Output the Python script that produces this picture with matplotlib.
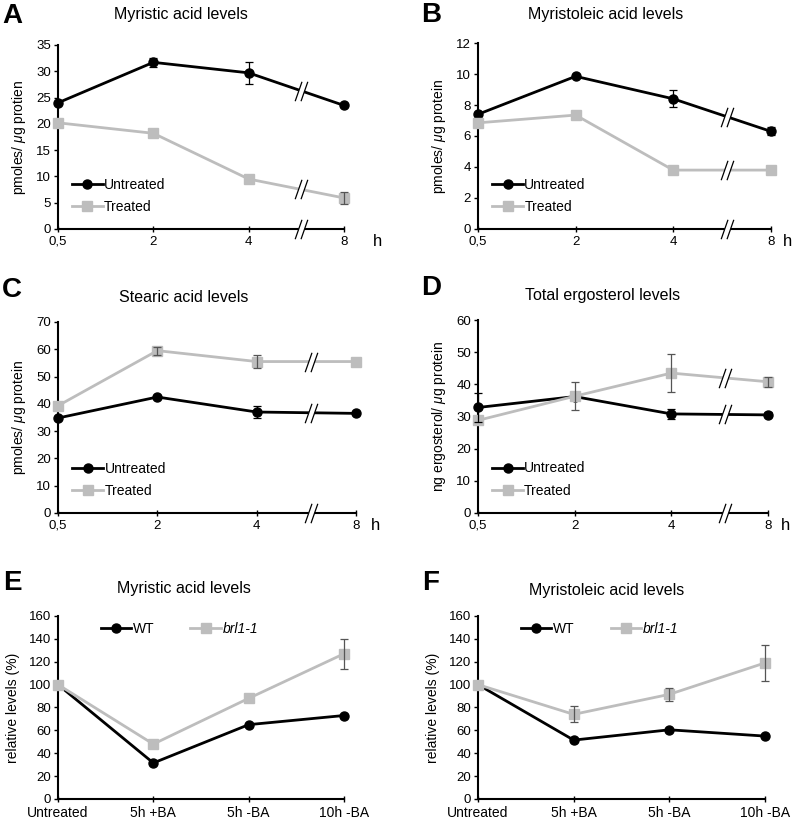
import numpy as np
import matplotlib
matplotlib.use('Agg')
import matplotlib.pyplot as plt
from matplotlib.path import Path

plt.rcParams['font.family'] = ['Liberation Sans', 'DejaVu Sans']
plt.rcParams['mathtext.fontset'] = 'custom'
plt.rcParams['mathtext.it'] = 'Liberation Sans:italic'

# ---- data ----
time_labels = ['0,5', '2', '4', '8']
cond_labels = ['Untreated', '5h +BA', '5h -BA', '10h -BA']

a_untreated = [24.0, 31.7, 29.7, 23.5]
a_untreated_err = [0, 0.8, 2.1, 0]
a_treated = [20.2, 18.2, 9.5, 5.9]
a_treated_err = [0, 0, 0, 1.2]

b_untreated = [7.4, 9.85, 8.4, 6.3]
b_untreated_err = [0, 0, 0.55, 0.25]
b_treated = [6.85, 7.35, 3.8, 3.8]
b_treated_err = [0, 0, 0, 0]

c_untreated = [34.8, 42.5, 37.0, 36.5]
c_untreated_err = [0, 0, 2.3, 0]
c_treated = [39.3, 59.5, 55.5, 55.5]
c_treated_err = [0, 1.5, 2.3, 0]

d_untreated = [32.8, 36.2, 30.8, 30.5]
d_untreated_err = [4.5, 0, 1.5, 0.8]
d_treated = [28.8, 36.3, 43.5, 40.8]
d_treated_err = [0, 4.4, 6.0, 1.5]

e_wt = [100, 31.5, 65, 73]
e_brl = [100, 48, 88, 127]
e_brl_err = [0, 0, 0, 13]

f_wt = [100, 51.5, 60.5, 55]
f_brl = [100, 74, 91.5, 119]
f_brl_err = [0, 7, 5.5, 15.5]

BLACK = '#000000'
GRAY = '#bdbdbd'

# break marker: two parallel slashes with a white gap between them
slash = Path([(-0.65, -1), (0.05, 1), (-0.05, -1), (0.65, 1)],
             [Path.MOVETO, Path.LINETO, Path.MOVETO, Path.LINETO])
gap = Path([(-0.6, -1), (0.0, -1), (0.6, 1), (0.0, 1), (-0.6, -1)],
           [Path.MOVETO, Path.LINETO, Path.LINETO, Path.LINETO, Path.CLOSEPOLY])


def add_break(ax, x, y):
    ax.plot([x], [y], marker=gap, markersize=14, markerfacecolor='white',
            markeredgewidth=0, linestyle='none', clip_on=False, zorder=6)
    ax.plot([x], [y], marker=slash, markersize=14, markerfacecolor='none',
            markeredgecolor='black', markeredgewidth=0.9, linestyle='none',
            clip_on=False, zorder=7)


def series(ax, y, err, color, marker, label, ecolor):
    x = np.arange(len(y))
    ax.plot(x, y, color=color, lw=2.0, marker=marker, markersize=6.5,
            label=label, clip_on=False, zorder=4)
    idx = [i for i, e in enumerate(err) if e > 0]
    ax.errorbar([x[i] for i in idx], [y[i] for i in idx],
                yerr=[err[i] for i in idx], fmt='none', ecolor=ecolor,
                elinewidth=0.9, capsize=3, capthick=0.9, clip_on=False, zorder=5)


def style_axes(ax, ymax, ystep, xlabels):
    ax.set_xlim(0, 3)
    ax.set_ylim(0, ymax)
    ax.set_yticks(np.arange(0, ymax + 0.1, ystep))
    ax.set_xticks(range(4))
    ax.set_xticklabels(xlabels)
    for s in ['top', 'right']:
        ax.spines[s].set_visible(False)
    for s in ['left', 'bottom']:
        ax.spines[s].set_linewidth(1.5)
    ax.tick_params(axis='y', direction='out', length=3, width=1, labelsize=9.5, pad=2)
    ax.tick_params(axis='x', direction='inout', length=4, width=1, labelsize=9.5, pad=3)


fig = plt.figure(figsize=(8, 8.21), dpi=100)

panels = [
    # key, rect, ymax, step, ylabel, black, black_err, gray, gray_err,
    # title, title pos, letter pos, "h" pos (pixels)
    ('A', [0.0725, 0.7211, 0.3575, 0.2241], 35, 5, 'pmoles/ $\\mu$g protien',
     a_untreated, a_untreated_err, a_treated, a_treated_err,
     'Myristic acid levels', (181, 15), (12, 16), (377, 242)),
    ('B', [0.5975, 0.7211, 0.366, 0.2265], 12, 2, 'pmoles/ $\\mu$g protein',
     b_untreated, b_untreated_err, b_treated, b_treated_err,
     'Myristoleic acid levels', (606, 15), (431, 15), (788, 242)),
    ('C', [0.0725, 0.3752, 0.3725, 0.2326], 70, 10, 'pmoles/ $\\mu$g protein',
     c_untreated, c_untreated_err, c_treated, c_treated_err,
     'Stearic acid levels', (184, 297), (12, 290), (376, 526)),
    ('D', [0.5975, 0.3752, 0.3625, 0.235], 60, 10, 'ng ergosterol/ $\\mu$g protein',
     d_untreated, d_untreated_err, d_treated, d_treated_err,
     'Total ergosterol levels', (603, 295), (431, 288), (786, 526)),
]

W, H = 800, 821
for key, rect, ymax, step, ylab, blk, blk_err, gry, gry_err, title, tpos, lpos, hpos in panels:
    ax = fig.add_axes(rect)
    series(ax, blk, blk_err, BLACK, 'o', 'Untreated', BLACK)
    series(ax, gry, gry_err, GRAY, 's', 'Treated', '#555555')
    style_axes(ax, ymax, step, time_labels)
    ax.set_ylabel(ylab, fontsize=10, labelpad=6)
    xb = 2.55
    for y in (blk, gry):
        add_break(ax, xb, np.interp(xb, [2, 3], [y[2], y[3]]))
    add_break(ax, xb, 0)
    ax.legend(loc='lower left', bbox_to_anchor=(0.03, 0.05), frameon=False,
              fontsize=10, handlelength=2.2, handletextpad=0.1, numpoints=1,
              labelspacing=0.6, borderaxespad=0)
    fig.text(hpos[0] / W, 1 - hpos[1] / H, 'h', fontsize=12, ha='center', va='center')
    fig.text(tpos[0] / W, 1 - tpos[1] / H, title, fontsize=11.5, ha='center', va='center')
    fig.text(lpos[0] / W, 1 - lpos[1] / H, key, fontsize=20, fontweight='bold',
             ha='center', va='center')

rel_panels = [
    ('E', [0.0725, 0.0268, 0.3575, 0.2229], e_wt, e_brl, e_brl_err,
     'Myristic acid levels', (184, 588), (12, 583)),
    ('F', [0.5975, 0.0268, 0.3588, 0.2229], f_wt, f_brl, f_brl_err,
     'Myristoleic acid levels', (607, 590), (431, 583)),
]

for key, rect, wt, brl, brl_err, title, tpos, lpos in rel_panels:
    ax = fig.add_axes(rect)
    series(ax, wt, [0] * 4, BLACK, 'o', 'WT', BLACK)
    series(ax, brl, brl_err, GRAY, 's', 'brl1-1', '#555555')
    style_axes(ax, 160, 20, cond_labels)
    ax.tick_params(axis='x', labelsize=10)
    ax.set_ylabel('relative levels (%)', fontsize=10, labelpad=6)
    leg = ax.legend(loc='upper left', bbox_to_anchor=(0.13, 1.0), frameon=False,
                    fontsize=10, handlelength=2.2, handletextpad=0.1, numpoints=1,
                    ncol=2, columnspacing=2.6, borderaxespad=0)
    leg.get_texts()[1].set_fontstyle('italic')
    fig.text(tpos[0] / W, 1 - tpos[1] / H, title, fontsize=11.5, ha='center', va='center')
    fig.text(lpos[0] / W, 1 - lpos[1] / H, key, fontsize=20, fontweight='bold',
             ha='center', va='center')

plt.savefig('out.png', dpi=100)
plt.close()
